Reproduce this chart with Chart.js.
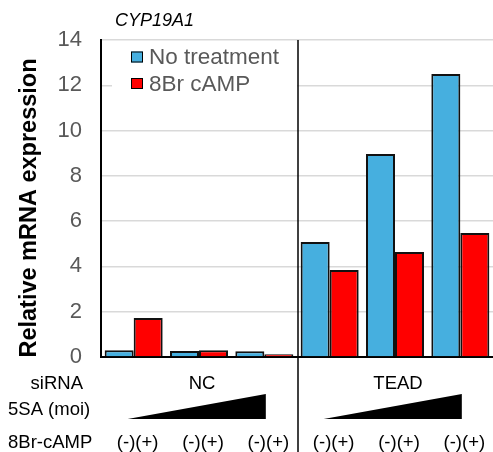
<!DOCTYPE html>
<html>
<head>
<meta charset="utf-8">
<script src="https://cdn.jsdelivr.net/npm/chart.js@4"></script>
<style>
  html, body { margin: 0; padding: 0; background: #fff; }
  #wrap { width: 493px; height: 452px; }
</style>
</head>
<body>
<div id="wrap"><canvas id="myChart" width="493" height="452"></canvas></div>
<script>
// data
const groups = ["NC-1", "NC-2", "NC-3", "TEAD-1", "TEAD-2", "TEAD-3"];
const noTreatment = [0.3, 0.27, 0.25, 5.08, 8.97, 12.5];
const cAMP8Br = [1.72, 0.3, 0.12, 3.84, 4.64, 5.48];
const seriesNames = ["No treatment", "8Br cAMP"];
const siRNA = ["NC", "TEAD"];
const rowLabels = ["siRNA", "5SA (moi)", "8Br-cAMP"];
const camp8BrMarks = "(-)(+)";

const FONT = "'Liberation Sans', Arial, sans-serif";
const BLUE = "#46AFDF";
const RED = "#FF0000";

const extras = {
  id: "extras",
  beforeDatasetsDraw(chart) {
    const { ctx, chartArea } = chart;
    // legend box hides the gridline behind it
    ctx.save();
    ctx.fillStyle = "#fff";
    ctx.fillRect(112, chartArea.top + 4, 185, 54);
    ctx.restore();
  },
  afterDraw(chart) {
    const { ctx, chartArea } = chart;
    const x = chart.scales.x;
    ctx.save();

    // title
    ctx.fillStyle = "#000";
    ctx.font = "italic 18px " + FONT;
    ctx.textAlign = "left";
    ctx.textBaseline = "middle";
    ctx.fillText("CYP19A1", 115, 21);

    // y axis title
    ctx.save();
    ctx.translate(30, 208);
    ctx.rotate(-Math.PI / 2);
    ctx.font = "bold 23.5px " + FONT;
    ctx.textAlign = "center";
    ctx.fillText("Relative mRNA expression", 0, 0, 307);
    ctx.restore();

    // legend
    const colors = [BLUE, RED];
    ctx.font = "22.5px " + FONT;
    ctx.textAlign = "left";
    seriesNames.forEach((name, i) => {
      const y = 57 + i * 26.5;
      ctx.fillStyle = colors[i];
      ctx.fillRect(131, y - 5.5, 12, 11);
      ctx.strokeStyle = "#000";
      ctx.lineWidth = 1;
      ctx.strokeRect(131.5, y - 5, 11, 10);
      ctx.fillStyle = "#595959";
      ctx.fillText(name, 149, y + 1);
    });

    // separator between NC and TEAD
    const sepX = (x.getPixelForValue(2) + x.getPixelForValue(3)) / 2 + 1;
    ctx.strokeStyle = "#000";
    ctx.lineWidth = 1.5;
    ctx.beginPath();
    ctx.moveTo(sepX, chartArea.top);
    ctx.lineTo(sepX, 452);
    ctx.stroke();

    // row labels below the axis
    ctx.fillStyle = "#000";
    ctx.font = "18.5px " + FONT;
    ctx.textAlign = "right";
    ctx.fillText(rowLabels[0], 83, 384);
    ctx.textAlign = "left";
    ctx.fillText(rowLabels[1], 8, 410);
    ctx.fillText(rowLabels[2], 8, 443);

    ctx.textAlign = "center";
    siRNA.forEach((s, k) => {
      const c = (x.getPixelForValue(k * 3) + x.getPixelForValue(k * 3 + 2)) / 2 + 3;
      ctx.fillText(s, c, 384);
      // dose triangle
      const l = x.getPixelForValue(k * 3) - 6;
      const r = x.getPixelForValue(k * 3 + 2) + 1.5;
      ctx.beginPath();
      ctx.moveTo(l, 419);
      ctx.lineTo(r, 419);
      ctx.lineTo(r, 394);
      ctx.closePath();
      ctx.fill();
    });

    groups.forEach((g, i) => {
      ctx.fillText(camp8BrMarks, x.getPixelForValue(i) + 4, 443);
    });

    ctx.restore();
  }
};

new Chart(document.getElementById("myChart").getContext("2d"), {
  type: "bar",
  data: {
    labels: groups,
    datasets: [
      {
        label: seriesNames[0],
        data: noTreatment,
        backgroundColor: BLUE,
        borderColor: "#111",
        borderWidth: 2,
        categoryPercentage: 0.888,
        barPercentage: 1,
      },
      {
        label: seriesNames[1],
        data: cAMP8Br,
        backgroundColor: RED,
        borderColor: "#111",
        borderWidth: 2,
        categoryPercentage: 0.888,
        barPercentage: 1,
      },
    ],
  },
  options: {
    responsive: false,
    animation: false,
    devicePixelRatio: 1,
    layout: { padding: { top: 40, right: 0, left: 0, bottom: 0 } },
    plugins: {
      legend: { display: false },
      tooltip: { enabled: false },
    },
    scales: {
      x: {
        ticks: { display: false },
        grid: { display: false },
        border: { color: "#000", width: 2 },
        afterFit(scale) { scale.height = 95; },
      },
      y: {
        min: 0,
        max: 14,
        ticks: {
          stepSize: 2,
          color: "#595959",
          font: { family: FONT, size: 22 },
          padding: 19,
        },
        grid: { color: "#d9d9d9", lineWidth: 1.5, drawTicks: false },
        border: { color: "#000", width: 2 },
        afterFit(scale) { scale.width = 101; },
      },
    },
  },
  plugins: [extras],
});
</script>
</body>
</html>
